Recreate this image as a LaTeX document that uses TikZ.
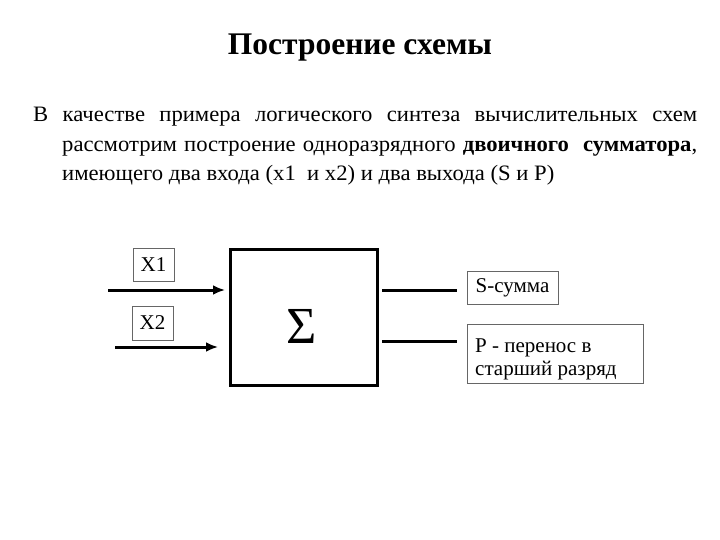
\documentclass[tikz,border=0pt]{standalone}
\usepackage{fontspec}
\setmainfont{Liberation Serif}
\newfontfamily\bodyfont[FakeStretch=1.03]{Liberation Serif}
\usetikzlibrary{arrows.meta}
\begin{document}
\begin{tikzpicture}[x=1pt,y=-1pt,
  lbl/.style={draw=black!60,line width=0.8pt,inner sep=0pt,font=\fontsize{21}{23}\selectfont},
  bodyline/.style={anchor=base west,inner sep=0pt,font=\fontsize{22}{26}\bodyfont},
  thick3/.style={line width=3pt},
  arr/.style={line width=3pt,-{Latex[length=12pt,width=10pt]}}]
\useasboundingbox (0,0) rectangle (720,540);
\node[anchor=base,font=\fontsize{31.5}{34}\selectfont\bfseries] (title) at (360,55) {Построение схемы};
\node[bodyline] (l1) at (33,122) {\makebox[664pt][s]{В качестве примера логического синтеза вычислительных схем}};
\node[bodyline] (l2) at (62,152) {\makebox[635pt][s]{рассмотрим построение одноразрядного \textbf{двоичного\ \ сумматора},}};
\node[bodyline] (l3) at (62,181) {имеющего два входа (x1\ \ и x2) и два выхода (S и P)};
% main box
\node[draw,line width=3pt,minimum width=147pt,minimum height=136pt,inner sep=0pt] (sum) at (303.5,317) {};
\node[inner sep=0pt,anchor=base,font=\fontsize{52}{52}\selectfont] (sigma) at (302,343) {Σ};
% input labels
\node[lbl,minimum width=41pt,minimum height=33pt] (x1) at (153.5,264.5) {X1};
\node[lbl,minimum width=41pt,minimum height=34pt] (x2) at (152.5,323) {X2};
% inputs
\coordinate (i1) at (108,290);
\coordinate (i1e) at (225,290);
\coordinate (i2) at (115,347);
\coordinate (i2e) at (218,347);
\draw[arr] (i1) -- (i1e);
\draw[arr] (i2) -- (i2e);
% outputs
\coordinate (o1s) at (382,290);
\coordinate (o1e) at (457,290);
\coordinate (o2s) at (382,341);
\coordinate (o2e) at (457,341);
\draw[thick3] (o1s) -- (o1e);
\draw[thick3] (o2s) -- (o2e);
\node[lbl,minimum width=91pt,minimum height=33pt] (s) at (512.5,287.5) {S-сумма};
\node[lbl,minimum width=176pt,minimum height=59pt] (p) at (555,353.5) {};
\node[anchor=base west,inner sep=0pt,align=left,font=\fontsize{21}{23}\selectfont] (ptext) at (475,375) {P - перенос в\\старший разряд};
\end{tikzpicture}
\end{document}
